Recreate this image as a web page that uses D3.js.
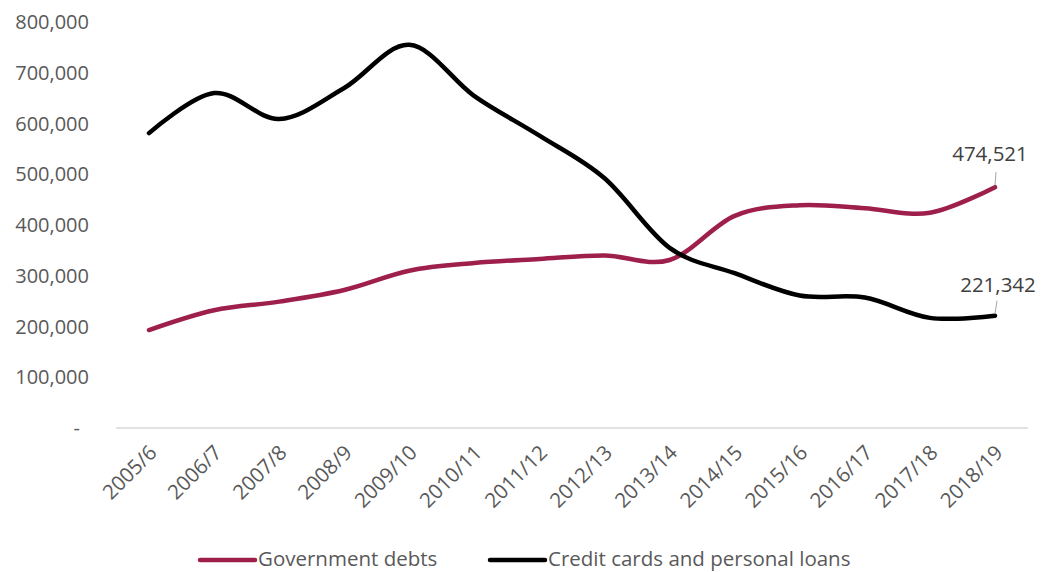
<!DOCTYPE html>
<html>
<head>
<meta charset="utf-8">
<script src="https://cdn.jsdelivr.net/npm/d3@7"></script>
<style>
    body { margin: 0; background: #fff; }
    svg text { font-family: "Open Sans", "Noto Sans", sans-serif; }
</style>
</head>
<body>
<div id="chart"></div>
<script>
const years = ["2005/6", "2006/7", "2007/8", "2008/9", "2009/10", "2010/11", "2011/12",
    "2012/13", "2013/14", "2014/15", "2015/16", "2016/17", "2017/18", "2018/19"];
const governmentDebts = [193000, 232000, 249000, 272000, 310000, 325000, 333000,
    340000, 331000, 418000, 439000, 433000, 424000, 474521];
const creditCards = [581000, 660000, 609000, 670000, 755000, 654000, 576000,
    492000, 355000, 305000, 261000, 257000, 217000, 221342];
const yTicks = [0, 100000, 200000, 300000, 400000, 500000, 600000, 700000, 800000];

const seriesList = [
    {name: "Government debts", values: governmentDebts, color: "#9E1F4B"},
    {name: "Credit cards and personal loans", values: creditCards, color: "#000000"}
];

const width = 1044, height = 572;

const svg = d3.select("#chart").append("svg")
    .attr("width", width)
    .attr("height", height);

const x = d3.scalePoint().domain(years).range([149, 995]);
const y = d3.scaleLinear().domain([0, 800000]).range([428, 22]);
const fmt = d3.format(",");

// y axis labels (no axis line)
svg.append("g").selectAll("text").data(yTicks)
    .join("text")
    .attr("x", d => d === 0 ? 80 : 89)
    .attr("y", d => y(d))
    .attr("dy", "0.35em")
    .attr("text-anchor", "end")
    .attr("fill", "#595959")
    .style("font-size", "20px")
    .text(d => d === 0 ? "-" : fmt(d));

// x baseline
svg.append("line")
    .attr("x1", 116).attr("x2", 1028)
    .attr("y1", y(0)).attr("y2", y(0))
    .attr("stroke", "#d9d9d9")
    .attr("stroke-width", 1.5);

// x labels
svg.append("g").selectAll("text").data(years)
    .join("text")
    .attr("transform", d => `translate(${x(d) + 9}, ${y(0) + 26}) rotate(-45)`)
    .attr("text-anchor", "end")
    .attr("fill", "#595959")
    .style("font-size", "20.5px")
    .text(d => d);

const line = d3.line()
    .x((d, i) => x(years[i]))
    .y(d => y(d))
    .curve(d3.curveCardinal.tension(0));

svg.append("g").selectAll("path").data(seriesList)
    .join("path")
    .attr("d", d => line(d.values))
    .attr("fill", "none")
    .attr("stroke", d => d.color)
    .attr("stroke-width", 4.5)
    .attr("stroke-linecap", "round");

// end labels with leader lines
const last = years.length - 1;
const endLabels = [
    {value: governmentDebts[last], dx: -5, dy: -33},
    {value: creditCards[last], dx: 3, dy: -31}
];
endLabels.forEach(l => {
    const px = x(years[last]), py = y(l.value);
    svg.append("line")
        .attr("x1", px).attr("y1", py - 2)
        .attr("x2", px + (l.dx > 0 ? 2 : 1)).attr("y2", py - 15)
        .attr("stroke", "#a6a6a6")
        .attr("stroke-width", 1);
    svg.append("text")
        .attr("x", px + l.dx)
        .attr("y", py + l.dy)
        .attr("dy", "0.35em")
        .attr("text-anchor", "middle")
        .attr("fill", "#404040")
        .style("font-size", "20.5px")
        .text(fmt(l.value));
});

// legend
const legend = svg.append("g");
const legendItems = [
    {s: seriesList[0], x: 200},
    {s: seriesList[1], x: 490}
];
legendItems.forEach(it => {
    legend.append("line")
        .attr("x1", it.x).attr("x2", it.x + 55)
        .attr("y1", 560).attr("y2", 560)
        .attr("stroke", it.s.color)
        .attr("stroke-width", 4.5)
        .attr("stroke-linecap", "round");
    legend.append("text")
        .attr("x", it.x + 58)
        .attr("y", 559)
        .attr("dy", "0.35em")
        .attr("fill", "#595959")
        .style("font-size", "20.5px")
        .text(it.s.name);
});
</script>
</body>
</html>
